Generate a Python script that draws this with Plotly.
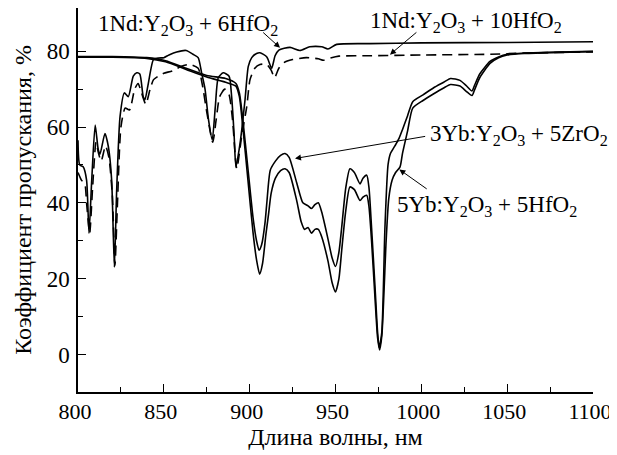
import plotly.graph_objects as go

# --- data ---
nd6_wl = [800, 801, 803, 805, 806.4, 808, 810, 811.8, 812.8, 815.7, 817.7, 819.6, 821.2, 822.5, 824.5,
          827, 829.3, 832.2, 834.2, 836, 838, 839, 841, 844, 847, 850, 853, 857.5, 863, 867, 870,
          872, 874, 876, 878.2, 880, 881.7, 884.6, 888, 889.5, 890.9, 892, 894.4, 897.3, 899.2,
          901.2, 904, 906, 910, 912.8, 914.8, 917, 923.5, 929.3, 935, 942, 945.6, 950.7, 970,
          1000, 1050, 1100]
nd6_t = [56.5, 50, 49.5, 46, 32, 46, 60.5, 54, 52.8, 58.3, 54.8, 46, 23, 43, 62.8,
         69, 68, 73.4, 74.3, 74, 68, 67.2, 71.6, 77.8, 78.2, 78.3, 79, 79.8, 80.2, 79.2, 78.3,
         74.3, 70, 62, 56.6, 65.4, 73, 74.3, 73.4, 68, 58.3, 49.5, 55.7, 67.2, 76,
         78.3, 79.4, 79.6, 78.5, 75.5, 78.8, 80.3, 81, 80.2, 81.2, 81.2, 80.6, 81.8, 82,
         82.2, 82.3, 82.5]

nd10_wl = [800, 802, 804, 805, 806.8, 808.5, 810.5, 812, 813.5, 816, 818, 820, 821.5, 823, 825,
           827.5, 830, 833, 835, 837, 839.5, 842, 844, 847, 850, 855, 860, 865, 870, 872.5, 875,
           878.5, 880.5, 882.5, 885.5, 888, 890, 892.5, 895.3, 898.3, 900.2, 903, 906, 910,
           912.5, 914.5, 917, 920, 925, 933, 940, 943, 947, 952, 970, 1000, 1040, 1060, 1100]
nd10_t = [48, 46, 45, 40, 32, 44, 56, 53, 51, 55, 52, 42, 23.5, 40, 60,
          65, 64.5, 70, 71.5, 69, 66, 70, 72.5, 73.5, 74.2, 74.8, 76, 76.5, 75.5, 71, 64,
          56, 62, 68, 70, 68.5, 62, 49, 57.5, 65.4, 72.5, 75.5, 76.5, 76.5,
          75, 73, 75.5, 77, 77.8, 78.3, 78, 77.6, 78.2, 78.7, 78.8, 79, 79.2, 79.5, 79.8]

yb3_wl = [800, 820, 840, 851, 863, 875, 886, 892, 894, 896, 899, 902, 904, 905.5, 907, 909, 910,
          912, 915, 918, 920.6, 923, 927.4, 931, 934, 936, 938, 940, 942, 945.6, 948, 950, 952,
          953.6, 956, 958.4, 961, 964.3, 966, 968.2, 969.5, 971, 973, 974.5, 975.5, 977, 978.8,
          980.6, 982, 984.6, 987, 989, 992, 995, 1001, 1007, 1013, 1017, 1022.5, 1026, 1029.5,
          1031, 1034, 1040, 1045, 1050, 1060, 1080, 1100]
yb3_t = [78.6, 78.6, 78.3, 77.5, 75.5, 73.6, 72.8, 71.5, 69, 62, 49, 36, 30, 27.5, 29, 35, 40,
         48.6, 51, 52.5, 53, 52, 45.3, 40, 39.2, 38.5, 39.5, 40, 37.5, 30.5, 25.5, 23.2, 27,
         33.5, 44, 49, 48, 45, 46.5, 47.3, 44, 33.5, 18, 6, 1.8, 6, 33.5,
         50, 53, 55, 57, 59.3, 63, 66.7, 68.5, 70.3, 71.8, 72.8, 72.3, 71, 69.5,
         71, 74, 77.3, 78.5, 79.2, 79.5, 79.8, 80]

yb5_wl = [800, 820, 840, 851, 863, 875, 886, 892, 894, 896, 899, 902, 904, 905.8, 907.5, 909.5,
          911, 912.5, 915, 918, 920.6, 923, 927.4, 930, 932, 934, 936, 938, 940, 942, 945.6, 948,
          950, 952, 953.6, 956, 958.4, 961, 964.3, 966, 968.2, 969.5, 971, 973, 974.5, 975.7,
          977, 979.5, 981, 983, 985, 987.6, 989, 992, 995, 1001, 1007, 1013, 1017, 1022.5, 1026,
          1029.5, 1031, 1034, 1040, 1045, 1050, 1060, 1080, 1100]
yb5_t = [78.4, 78.4, 78.1, 77.2, 75.2, 73.2, 71.8, 70.8, 68, 60, 46, 32, 25, 21.2, 24, 31.8,
         37, 42.5, 46.5, 48.5, 49, 48, 40.6, 35, 33, 33.5, 32, 33, 33, 31, 24.7, 19,
         16.5, 20, 27.4, 38, 44.2, 43.5, 40.6, 41.5, 42, 39, 30, 15, 4.5, 1.2,
         5, 30, 41, 46, 48, 49.5, 53, 59, 65, 67, 68.7, 70.3, 71.2, 70.8, 69.5,
         68.3, 69.8, 73, 76.8, 78.3, 79, 79.4, 79.7, 79.9]

x_ticks = [800, 850, 900, 950, 1000, 1050, 1100]
y_ticks = [0, 20, 40, 60, 80]

FONT = "Liberation Serif"
FS = 23
LW = 1.6

fig = go.Figure()
line_solid = dict(color="black", width=LW, shape="spline", smoothing=0.6)
fig.add_trace(go.Scatter(x=yb3_wl, y=yb3_t, mode="lines", line=line_solid,
                         name="3Yb:Y2O3+5ZrO2"))
fig.add_trace(go.Scatter(x=yb5_wl, y=yb5_t, mode="lines", line=line_solid,
                         name="5Yb:Y2O3+5HfO2"))
fig.add_trace(go.Scatter(x=nd10_wl, y=nd10_t, mode="lines",
                         line=dict(color="black", width=LW, dash="10px,6px", shape="spline", smoothing=0.6),
                         name="1Nd:Y2O3+10HfO2"))
fig.add_trace(go.Scatter(x=nd6_wl, y=nd6_t, mode="lines", line=line_solid,
                         name="1Nd:Y2O3+6HfO2"))

labels = [
    ("1Nd:Y<sub>2</sub>O<sub>3</sub> + 6HfO<sub>2</sub>", 810.5, 87.0),
    ("1Nd:Y<sub>2</sub>O<sub>3</sub> + 10HfO<sub>2</sub>", 969, 87.6),
    ("3Yb:Y<sub>2</sub>O<sub>3</sub> + 5ZrO<sub>2</sub>", 1004, 57.9),
    ("5Yb:Y<sub>2</sub>O<sub>3</sub> + 5HfO<sub>2</sub>", 984.5, 39.3),
]
for txt, x, y in labels:
    fig.add_annotation(text=txt, x=x, y=y, xref="x", yref="y", xanchor="left", yanchor="middle",
                       showarrow=False, font=dict(family=FONT, size=FS, color="black"))

arrows = [
    (907, 85.3, 917.7, 80.9),
    (998, 85.3, 981.7, 79.1),
    (1003.1, 57.6, 926.4, 51.7),
    (1004, 43.4, 987.2, 48.8),
]
for ax, ay, x, y in arrows:
    fig.add_annotation(text="", x=x, y=y, ax=ax, ay=ay, xref="x", yref="y", axref="x", ayref="y",
                       showarrow=True, arrowhead=2, arrowsize=1.2, arrowwidth=1, arrowcolor="black")

# page body has an 8px margin, so the figure is 609x447 placed at (8, 8)
fig.update_layout(
    width=609, height=447,
    margin=dict(l=70, r=24, t=0, b=63),
    paper_bgcolor="white", plot_bgcolor="white",
    showlegend=False,
    font=dict(family=FONT, size=FS, color="black"),
)
fig.update_xaxes(
    range=[800, 1100], tickvals=x_ticks, ticktext=[str(v) for v in x_ticks],
    showgrid=False, zeroline=False, showline=True, linecolor="black", linewidth=1.5,
    ticks="inside", ticklen=8, tickwidth=1.3, tickcolor="black",
    minor=dict(tickvals=[825, 875, 925, 975, 1025, 1075], ticks="inside", ticklen=5, tickwidth=1.3, tickcolor="black"),
    tickfont=dict(family=FONT, size=22), ticklabelstandoff=-1, ticklabelshift=-3, automargin=False,
    title=dict(text="Длина волны, нм", font=dict(family=FONT, size=FS + 1), standoff=0),
)
fig.update_yaxes(
    range=[-9.9, 91.4], tickvals=y_ticks, ticktext=[str(v) for v in y_ticks],
    showgrid=False, zeroline=False, showline=True, linecolor="black", linewidth=1.5,
    ticks="inside", ticklen=8, tickwidth=1.3, tickcolor="black",
    minor=dict(tickvals=[10, 30, 50, 70], ticks="inside", ticklen=5, tickwidth=1.3, tickcolor="black"),
    tickfont=dict(family=FONT, size=FS), ticklabelstandoff=2, automargin=False,
    title=dict(text="Коэффициент пропускания, %", font=dict(family=FONT, size=FS + 1), standoff=8),
)

fig.write_html("out.html")
